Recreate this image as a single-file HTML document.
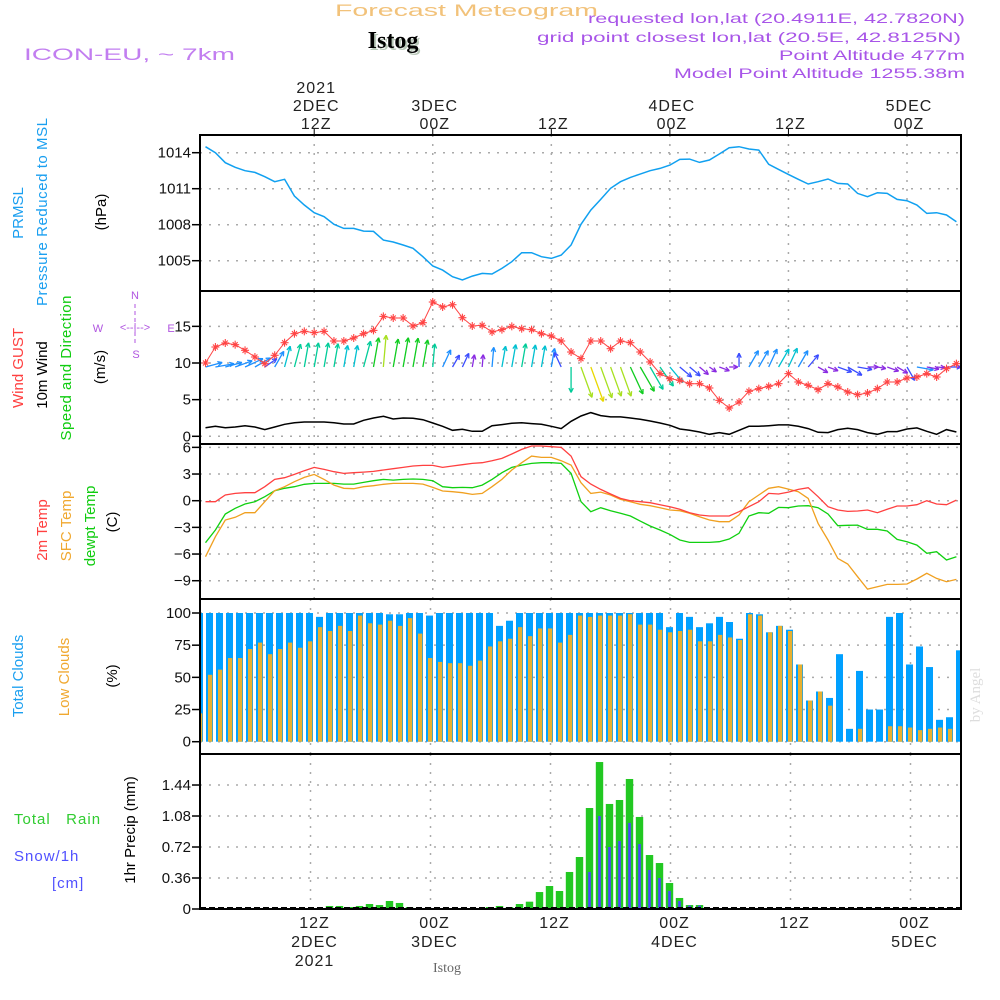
<!DOCTYPE html>
<html><head><meta charset="utf-8"><title>Forecast Meteogram Istog</title>
<style>
html,body{margin:0;padding:0;background:#fff;}
svg{display:block;font-family:"Liberation Sans",sans-serif;}
.tk{font-size:15px;fill:#111;text-anchor:end;}
.ax{font-size:16px;fill:#222;text-anchor:middle;letter-spacing:1px;}
.lb{font-size:15px;text-anchor:middle;}
</style></head>
<body>
<svg id="chart" width="1000" height="1000" viewBox="0 0 1000 1000">
<text x="335" y="16" font-size="17" fill="#f2c27a" textLength="263" lengthAdjust="spacingAndGlyphs">Forecast Meteogram</text>
<text x="393" y="48" font-size="24" font-weight="bold" font-family="Liberation Serif,serif" fill="#b8c8b8" text-anchor="middle" transform="translate(2,2)">Istog</text>
<text x="393" y="48" font-size="24" font-weight="bold" font-family="Liberation Serif,serif" fill="#000" text-anchor="middle">Istog</text>
<text x="24" y="60" font-size="17" fill="#c27ef0" textLength="211" lengthAdjust="spacingAndGlyphs">ICON-EU, ~ 7km</text>
<g font-size="14" fill="#a855e8">
<text x="588" y="23" textLength="377" lengthAdjust="spacingAndGlyphs">requested lon,lat (20.4911E, 42.7820N)</text>
<text x="537" y="42" textLength="424" lengthAdjust="spacingAndGlyphs">grid point closest lon,lat (20.5E, 42.8125N)</text>
<text x="779" y="60" textLength="186" lengthAdjust="spacingAndGlyphs">Point Altitude 477m</text>
<text x="674" y="78" textLength="291" lengthAdjust="spacingAndGlyphs">Model Point Altitude 1255.38m</text>
</g>
<g id="layer-grid"></g>
<g id="layer-data"></g>
<g id="layer-frame"></g>
<g id="layer-text"></g>
<g fill="#1a9ff0">
<text class="lb" transform="translate(23,213) rotate(-90)">PRMSL</text>
<text class="lb" transform="translate(47,212) rotate(-90)" textLength="188">Pressure Reduced to MSL</text>
</g>
<text class="lb" fill="#000" transform="translate(106,212) rotate(-90)">(hPa)</text>
<text class="lb" fill="#ff4040" transform="translate(23,368) rotate(-90)">Wind GUST</text>
<text class="lb" fill="#000" transform="translate(47,375) rotate(-90)">10m Wind</text>
<text class="lb" fill="#10cc10" transform="translate(71,368) rotate(-90)" textLength="145">Speed and Direction</text>
<text class="lb" fill="#000" transform="translate(105,367) rotate(-90)">(m/s)</text>
<g fill="#b055e0" stroke="none" font-size="11" text-anchor="middle">
<text x="135" y="299">N</text><text x="98" y="332">W</text><text x="171" y="332">E</text><text x="136" y="358">S</text>
<text x="135" y="331" font-size="11">&lt;--|--&gt;</text>
<line x1="135" y1="304" x2="135" y2="345" stroke="#b055e0" stroke-dasharray="4,3"/>
</g>
<text class="lb" fill="#ff4040" transform="translate(47,530) rotate(-90)">2m Temp</text>
<text class="lb" fill="#f0a830" transform="translate(71,526) rotate(-90)">SFC Temp</text>
<text class="lb" fill="#10cc10" transform="translate(95,526) rotate(-90)">dewpt Temp</text>
<text class="lb" fill="#000" transform="translate(117,522) rotate(-90)">(C)</text>
<text class="lb" fill="#1a9ff0" transform="translate(23,676) rotate(-90)">Total Clouds</text>
<text class="lb" fill="#f0a830" transform="translate(69,677) rotate(-90)">Low Clouds</text>
<text class="lb" fill="#000" transform="translate(117,676) rotate(-90)">(%)</text>
<text x="14" y="824" font-size="15" fill="#30cc30" letter-spacing="1">Total&#160;&#160;&#160;Rain</text>
<text x="14" y="861" font-size="15" fill="#5050ff" letter-spacing="1">Snow/1h</text>
<text x="52" y="888" font-size="15" fill="#5050ff" letter-spacing="1">[cm]</text>
<text class="lb" fill="#000" transform="translate(135,830) rotate(-90)">1hr Precip (mm)</text>
<text class="lb" fill="#ddd" font-family="Liberation Serif,serif" font-size="14" transform="translate(980,695) rotate(-90)">by Angel</text>
<text x="447" y="972" font-size="14" fill="#666" font-family="Liberation Serif,serif" text-anchor="middle">Istog</text>
</svg>
<script>
// ---- data (hourly, t = 1..77 hours after 2 DEC 00Z) ----
const pressure = [1014.5,1014.0,1013.17,1012.78,1012.5,1012.36,1012.0,1011.58,1011.78,1010.39,1009.64,1009.0,1008.67,1008.03,1007.69,1007.69,1007.47,1007.44,1006.72,1006.56,1006.31,1006.03,1005.33,1004.56,1004.22,1003.67,1003.39,1003.72,1003.94,1003.89,1004.36,1004.92,1005.67,1005.67,1005.33,1005.19,1005.47,1006.31,1008.03,1009.22,1010.11,1011.03,1011.58,1011.94,1012.22,1012.5,1012.69,1012.97,1013.44,1013.47,1013.19,1013.39,1013.89,1014.42,1014.5,1014.31,1014.22,1013.03,1012.61,1012.19,1011.78,1011.39,1011.58,1011.81,1011.44,1011.39,1010.61,1010.33,1010.67,1010.61,1010.11,1010.0,1009.64,1008.94,1009.0,1008.81,1008.25];
const gust = [10.0,12.18,12.73,12.5,11.73,10.82,9.91,11.05,12.77,14.0,14.32,14.14,14.32,13.0,13.0,13.41,14.0,14.45,16.36,16.14,16.14,15.05,15.5,18.32,17.64,17.95,16.18,15.05,15.14,14.23,14.55,15.0,14.68,14.55,14.0,13.68,13.0,11.5,10.59,13.0,13.0,11.95,13.0,12.77,11.5,10.14,8.55,7.86,7.64,7.18,7.18,6.59,4.91,3.86,4.68,6.14,6.5,6.82,7.18,8.55,7.41,6.95,6.36,7.18,6.73,6.05,5.68,5.91,6.5,7.41,7.41,7.95,8.09,8.55,8.09,9.23,9.91];
const wind10m = [1.18,1.36,1.18,1.27,1.45,1.27,0.91,1.27,1.64,1.86,1.95,1.95,1.95,1.86,1.68,1.68,2.18,2.5,2.73,2.36,2.5,2.45,2.27,1.82,1.36,0.82,0.95,0.68,0.68,1.45,1.59,1.77,1.86,1.73,1.64,1.36,1.05,2.05,2.77,3.23,2.82,2.64,2.64,2.5,2.32,2.09,1.82,1.5,1.0,0.82,0.59,0.27,0.5,0.27,0.82,1.36,1.36,1.45,1.55,1.55,1.36,1.05,0.55,0.5,0.91,1.09,0.91,0.5,0.27,0.64,0.64,1.0,1.14,0.68,0.27,0.91,0.59];
const windDir = [75,80,75,70,65,60,55,30,15,15,10,10,10,10,10,10,15,10,5,10,10,10,10,5,25,30,25,10,5,5,10,10,10,10,10,10,335,180,160,160,160,160,160,155,150,150,145,140,130,130,130,125,110,90,0,30,30,25,30,25,30,40,120,110,110,120,100,90,100,110,120,150,100,100,95,90,100];
const temp2m = [-0.11,-0.11,0.64,0.82,0.9,0.9,1.57,2.4,2.59,2.96,3.37,3.75,3.52,3.26,3.07,3.15,3.22,3.3,3.45,3.6,3.75,3.9,3.97,3.97,3.75,3.9,4.05,4.2,4.27,4.5,4.76,5.25,5.77,6.15,6.15,6.07,6.0,5.02,2.7,1.87,1.27,0.75,0.26,0,-0.11,-0.22,-0.45,-0.67,-0.97,-1.35,-1.61,-1.72,-1.72,-1.72,-1.24,-0.67,-0.11,0.82,0.75,0.97,1.27,1.46,0.45,-0.67,-1.05,-1.2,-1.16,-1.05,-1.35,-0.97,-0.6,-0.6,-0.45,0,-0.37,-0.45,0.07];
const tempSfc = [-6.3,-4.05,-2.17,-1.87,-1.35,-1.35,-0.11,1.12,1.57,2.14,2.62,2.96,2.4,1.76,1.39,1.35,1.57,1.69,1.84,1.95,1.95,1.95,1.87,1.5,1.09,1.01,0.9,0.71,0.82,1.57,2.4,3.45,4.27,5.02,4.87,4.87,4.5,4.01,2.02,0.82,0.97,0.64,0.15,-0.11,-0.41,-0.56,-0.79,-1.05,-1.12,-1.42,-1.8,-2.17,-2.36,-2.36,-1.61,-0.11,0.64,1.39,1.57,1.31,1.01,0.26,-2.55,-4.42,-6.49,-7.12,-8.55,-9.94,-9.67,-9.41,-9.41,-9.37,-8.81,-8.17,-8.74,-9.11,-8.85];
const dewpt = [-4.72,-3.3,-1.5,-0.86,-0.37,-0.11,0.45,1.12,1.39,1.57,1.84,1.95,1.95,1.95,1.87,1.87,2.06,2.25,2.4,2.32,2.4,2.44,2.4,2.25,1.57,1.46,1.5,1.46,1.76,2.4,3.15,3.75,4.01,4.2,4.27,4.27,4.2,3.07,-0.11,-1.24,-0.79,-1.12,-1.42,-1.72,-2.29,-2.85,-3.3,-3.79,-4.42,-4.69,-4.69,-4.69,-4.61,-4.31,-3.67,-1.72,-1.35,-1.42,-0.75,-0.79,-0.6,-0.56,-0.79,-1.5,-2.81,-2.77,-2.74,-3.22,-3.22,-3.41,-4.35,-4.61,-4.99,-5.92,-5.74,-6.67,-6.3];
// bar panels: index 0..76
const totalCloud = [100,100,100,100,100,100,100,100,100,100,100,100,97,100,100,100,100,100,100,99,99,100,100,98,100,100,100,100,100,100,90,94,100,100,100,100,100,100,100,100,100,100,100,100,100,100,100,89,100,97,89,92,97,93,80,100,99,85,90,87,60,32,39,34,68,10,55,25,25,97,100,60,74,58,17,19,71];
const lowCloud = [22,52,56,65,65,72,77,68,72,77,73,78,89,86,90,86,98,92,91,94,90,96,84,65,62,61,61,59,63,74,78,80,89,82,88,88,77,83,98,97,98,98,98,99,91,91,87,85,86,87,78,78,83,81,79,99,98,85,90,86,60,32,39,28,0,0,10,0,0,12,12,11,9,10,11,10,0];
const rain = [0,0,0,0,0,0,0,0,0,0,0,0,0,0.035,0.035,0.023,0.035,0.058,0.046,0.093,0.07,0.023,0.008,0.004,0,0,0,0,0,0.023,0.035,0.023,0.058,0.085,0.197,0.267,0.209,0.43,0.604,1.173,1.707,1.22,1.266,1.51,1.069,0.627,0.534,0.302,0.128,0.046,0.046,0.008,0,0,0,0,0,0,0,0,0,0,0,0,0,0,0,0,0,0,0,0,0,0,0,0,0];
const snow = [0,0,0,0,0,0,0,0,0,0,0,0,0,0,0,0,0,0,0,0,0,0,0,0,0,0,0,0,0,0,0,0,0,0,0,0,0,0,0.01,0.43,1.08,0.72,0.79,1.0,0.755,0.453,0.36,0.21,0.093,0.04,0.04,0,0,0,0,0,0,0,0,0,0,0,0,0,0,0,0,0,0,0,0,0,0,0,0,0,0];
const pTicks = [1005,1008,1011,1014];
const wTicks = [0,5,10,15];
const tTicks = [-9,-6,-3,0,3,6];
const cTicks = [0,25,50,75,100];
const rTicks = [0,0.36,0.72,1.08,1.44];
const timeTicks = [12,24,36,48,60,72];
const timeTop = [["2021","2DEC","12Z"],["","3DEC","00Z"],["","","12Z"],["","4DEC","00Z"],["","","12Z"],["","5DEC","00Z"]];
const timeBottom = [["12Z","2DEC","2021"],["00Z","3DEC",""],["12Z","",""],["00Z","4DEC",""],["12Z","",""],["00Z","5DEC",""]];

// ---- axes ----
const L=200, R=961;
const P = {p:[135,291], w:[291,444], t:[444,599], c:[599,754], r:[754,909]};
const xT = t => 314.2 + (t-12)*9.88;
const xB = i => 199.5 + i*10.0;
const xG = t => 310.5 + (t-12)*10.0;
const yP = v => 152.7 + (1014-v)*12;
const yW = v => 436.3 - v*7.33;
const yT = v => 500.7 - v*8.89;
const yC = v => 741.7 - v*1.287;
const yR = v => 909 - v*86.1;

const NS='http://www.w3.org/2000/svg';
function mk(tag, parent, attrs){const e=document.createElementNS(NS,tag);for(const k in attrs)e.setAttribute(k,attrs[k]);parent.appendChild(e);return e;}
const gGrid=document.getElementById('layer-grid'), gData=document.getElementById('layer-data'), gFrame=document.getElementById('layer-frame'), gText=document.getElementById('layer-text');
const svg=document.getElementById('chart');
const defs=mk('defs',svg,{});
Object.keys(P).forEach(k=>{const cp=mk('clipPath',defs,{id:'clip-'+k});mk('rect',cp,{x:L,y:P[k][0],width:R-L,height:P[k][1]-P[k][0]});});

function hgrid(panel, ticks, yf, fmt){
  ticks.forEach(v=>{
    const y=yf(v);
    const ln=mk('line',gGrid,{x1:L,x2:R,y1:y,y2:y,stroke:'#aaa','stroke-width':1.5,'stroke-dasharray':'2,7'});
    
    
    mk('line',gFrame,{x1:L-8,x2:L,y1:y,y2:y,stroke:'#000','stroke-width':1.5});
    const tx=mk('text',gText,{x:L-9,y:y+5,class:'tk'});
    tx.textContent=fmt?fmt(v):String(v);
    
    
  });
}
hgrid('pressure',pTicks,yP);
hgrid('wind',wTicks,yW);
hgrid('temp',tTicks,yT,v=>v<0?'\u2212'+(-v):String(v));
hgrid('cloud',cTicks,yC);
hgrid('precip',rTicks,yR,v=>v===0?'0':v.toFixed(2));
['p','w','t'].forEach(k=>timeTicks.forEach(t=>{
  const l=mk('line',gGrid,{x1:xT(t),x2:xT(t),y1:P[k][0],y2:P[k][1],stroke:'#aaa','stroke-width':1.5,'stroke-dasharray':'2,7'});
  
  
}));
['c','r'].forEach(k=>timeTicks.forEach(t=>{
  const l=mk('line',gGrid,{x1:xG(t),x2:xG(t),y1:P[k][0],y2:P[k][1],stroke:'#aaa','stroke-width':1.5,'stroke-dasharray':'2,7'});
  
  
}));
timeTicks.forEach((t,i)=>{
  const x=xT(t);
  mk('line',gFrame,{x1:x,x2:x,y1:128,y2:135,stroke:'#000','stroke-width':1});
  timeTop[i].forEach((s,j)=>{ if(!s)return; const e=mk('text',gText,{x:x+2,y:93+j*18,class:'ax'}); e.textContent=s;
     });
  const xb=xG(t)+4;
  timeBottom[i].forEach((s,j)=>{ if(!s)return; const e=mk('text',gText,{x:xb,y:928+j*19,class:'ax'}); e.textContent=s;
     });
});

function series(arr, yf, color, name, panel, w){
  const pts=arr.map((v,i)=>xT(i+1).toFixed(1)+','+yf(v).toFixed(1)).join(' ');
  const pl=mk('polyline',gData,{points:pts,fill:'none',stroke:color,'stroke-width':w||1.3,'clip-path':'url(#clip-'+panel+')'});
  
  
}
series(pressure,yP,'#10a0f0','pressure-line','p',1.5);
function windColor(s){ if(s<0.75)return '#8a2be2'; if(s<1.1)return '#3a4cff'; if(s<1.5)return '#1e90ff'; if(s<1.8)return '#00c0d0'; if(s<2.2)return '#00cc99'; if(s<2.6)return '#10cc20'; if(s<3.0)return '#a8e020'; return '#e8d800'; }
windDir.forEach((d,i)=>{
  const s=wind10m[i], x0=xT(i+1), y0=367, len=6+s*9.5, a=d*Math.PI/180;
  const x1=x0+Math.sin(a)*len, y1=y0-Math.cos(a)*len;
  const c=windColor(s);
  const g=mk('g',gData,{stroke:c,'stroke-width':1.3,fill:'none','clip-path':'url(#clip-w)'});
  
  
  mk('line',g,{x1:x0,y1:y0,x2:x1,y2:y1});
  const h=5;
  [a+Math.PI-0.45,a+Math.PI+0.45].forEach(b=>mk('line',g,{x1:x1,y1:y1,x2:x1+Math.sin(b)*h,y2:y1-Math.cos(b)*h}));
});
series(wind10m,yW,'#000','wind-10m-speed-line','w',1.5);
series(gust,yW,'#ff4444','wind-gust-line','w',1.0);
gust.forEach((v,i)=>{
  const x=xT(i+1), y=yW(v);
  const g=mk('g',gData,{stroke:'#ff4444','stroke-width':1.1,'clip-path':'url(#clip-w)'});
  
  
  mk('line',g,{x1:x-4,x2:x+4,y1:y,y2:y});
  mk('line',g,{x1:x,x2:x,y1:y-4,y2:y+4});
  mk('line',g,{x1:x-2.5,x2:x+2.5,y1:y-2.5,y2:y+2.5});
  mk('line',g,{x1:x-2.5,x2:x+2.5,y1:y+2.5,y2:y-2.5});
});
series(dewpt,yT,'#10d010','dewpoint-line','t',1.3);
series(tempSfc,yT,'#f0a020','sfc-temp-line','t',1.3);
series(temp2m,yT,'#ff4040','temp-2m-line','t',1.3);
totalCloud.forEach((v,i)=>{
  const x=xB(i), y=yC(v);
  const r=mk('rect',gData,{x:x-3.5,y:y,width:7,height:yC(0)-y,fill:'#00a0ff','clip-path':'url(#clip-c)'});
  
  
});
lowCloud.forEach((v,i)=>{
  if(v<=0)return;
  const x=xB(i), y=yC(v);
  const r=mk('rect',gData,{x:x-1.5,y:y,width:4.3,height:yC(0)-y,fill:'#e8b030','clip-path':'url(#clip-c)'});
  
  
});
rain.forEach((v,i)=>{
  if(v<=0)return;
  const x=xB(i), y=yR(v);
  const r=mk('rect',gData,{x:x-3.7,y:y,width:7.4,height:yR(0)-y,fill:'#22c822','clip-path':'url(#clip-r)'});
  
  
});
snow.forEach((v,i)=>{
  if(v<=0)return;
  const x=xB(i), y=yR(v);
  const r=mk('rect',gData,{x:x-1.3,y:y,width:2.6,height:yR(0)-y,fill:'#4848ff','clip-path':'url(#clip-r)'});
  
  
});
mk('line',gFrame,{x1:L,x2:R,y1:908,y2:908,stroke:'#000','stroke-width':2,'stroke-dasharray':'6,3'});
Object.keys(P).forEach(k=>{
  const f=mk('rect',gFrame,{x:L,y:P[k][0],width:R-L,height:P[k][1]-P[k][0],fill:'none',stroke:'#000','stroke-width':2});
  
  
});
</script>
</body></html>
